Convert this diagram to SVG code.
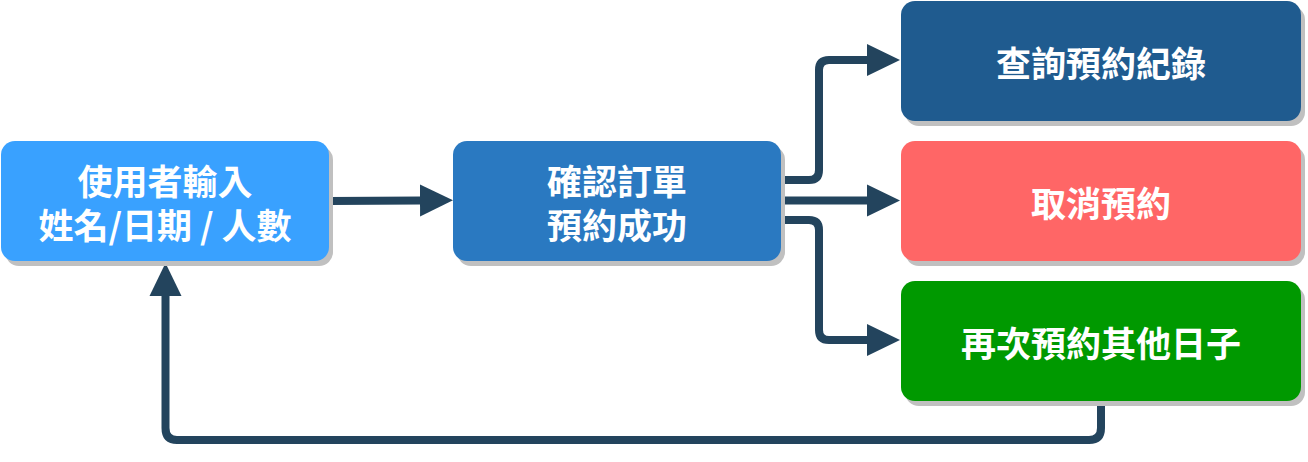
<svg xmlns="http://www.w3.org/2000/svg" width="1308" height="462" viewBox="0 0 1308 462">
<style>
.shadow{fill:#c0c0c0}
.lbl{font-family:"Noto Sans CJK TC","Noto Sans CJK SC",sans-serif;font-weight:bold;font-size:35px;fill:#ffffff;text-anchor:middle;dominant-baseline:central}
.edge{fill:none;stroke:#23445d;stroke-width:8;stroke-linejoin:round}
</style>
<defs>
<marker id="arr" markerUnits="userSpaceOnUse" markerWidth="34" markerHeight="34" refX="1" refY="17" orient="auto" viewBox="0 0 34 34">
<path d="M0,1 L33,17 L0,33 z" fill="#23445d"/>
</marker>
</defs>
<g id="connectors">
<path class="edge" d="M329,201 L421,200.5" marker-end="url(#arr)"/>
<path class="edge" d="M781,180 L809,180 Q819,180 819,170 L819,70 Q819,60 829,60 L868,60" marker-end="url(#arr)"/>
<path class="edge" d="M781,200.5 L868,200.5" marker-end="url(#arr)"/>
<path class="edge" d="M781,220 L809,220 Q819,220 819,230 L819,330 Q819,340 829,340 L868,340" marker-end="url(#arr)"/>
<path class="edge" d="M1101,401 L1101,428 Q1101,440 1089,440 L177,440 Q165.5,440 165.5,428 L165.5,295" marker-end="url(#arr)"/>
</g>
<g id="node-input">
<rect class="shadow" x="5" y="146" width="328" height="120" rx="14"/>
<rect x="1" y="141" width="328" height="120" rx="14" fill="#39a1ff"/>
<text class="lbl"><tspan x="165" y="179">使用者輸入</tspan><tspan x="165" y="223">姓名/日期 / 人數</tspan></text>
</g>
<g id="node-confirm">
<rect class="shadow" x="457" y="146" width="328" height="120" rx="14"/>
<rect x="453" y="141" width="328" height="120" rx="14" fill="#2a79c1"/>
<text class="lbl"><tspan x="617" y="179">確認訂單</tspan><tspan x="617" y="223">預約成功</tspan></text>
</g>
<g id="node-query">
<rect class="shadow" x="905" y="6" width="400" height="120" rx="14"/>
<rect x="901" y="1" width="400" height="120" rx="14" fill="#1f5b8f"/>
<text class="lbl" x="1101" y="61">查詢預約紀錄</text>
</g>
<g id="node-cancel">
<rect class="shadow" x="905" y="146" width="400" height="120" rx="14"/>
<rect x="901" y="141" width="400" height="120" rx="14" fill="#ff6666"/>
<text class="lbl" x="1101" y="201">取消預約</text>
</g>
<g id="node-again">
<rect class="shadow" x="905" y="286" width="400" height="120" rx="14"/>
<rect x="901" y="281" width="400" height="120" rx="14" fill="#009900"/>
<text class="lbl" x="1101" y="341">再次預約其他日子</text>
</g>
</svg>
